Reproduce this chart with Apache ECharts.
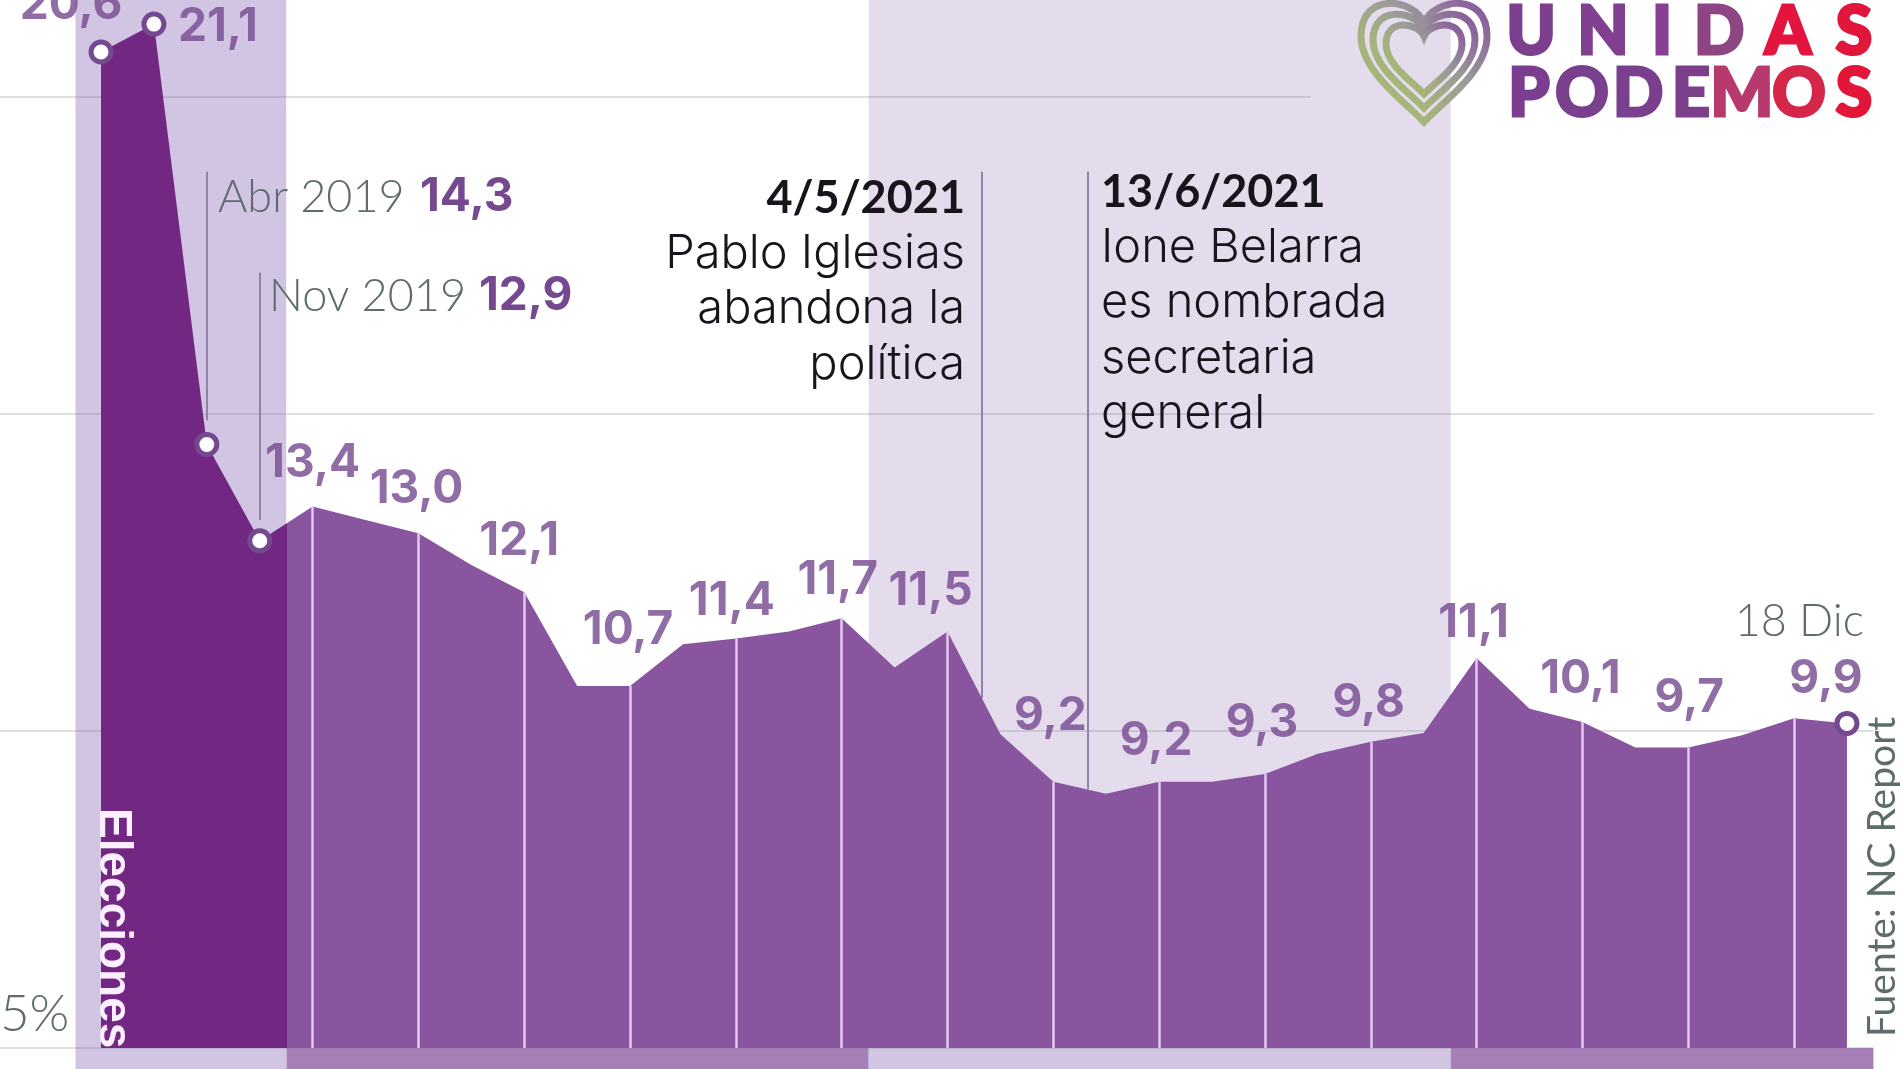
<!DOCTYPE html>
<html lang="es">
<head>
    <meta charset="UTF-8">
    <title>Unidas Podemos</title>
    <style>
        html, body { margin: 0; padding: 0; background: #fff; }
        #main { width: 1900px; height: 1069px; }
    </style>
</head>
<body>
<div id="main"></div>
<script src="https://cdn.jsdelivr.net/npm/echarts@6/dist/echarts.min.js"></script>
<script>
    // curva, un punto cada media casilla
    const trend = [20.71, 21.15, 14.52, 13.0, 13.54, 13.33, 13.12, 12.62, 12.19, 10.71, 10.71, 11.37,
        11.46, 11.57, 11.78, 11.0, 11.57, 9.95, 9.2, 9.01, 9.2, 9.2, 9.32, 9.64, 9.83, 9.97,
        11.15, 10.35, 10.14, 9.74, 9.74, 9.93, 10.2, 10.12];
    // etiquetas impresas, por indice de punto
    const labelIndex = [0, 1, 4, 6, 8, 10, 12, 14, 16, 18, 20, 22, 24, 26, 28, 30, 33];
    const labelText = ['20,6', '21,1', '13,4', '13,0', '12,1', '10,7', '11,4', '11,7', '11,5',
        '9,2', '9,2', '9,3', '9,8', '11,1', '10,1', '9,7', '9,9'];
    const markerIndex = [0, 1, 2, 3, 33];
    const tickIndex = [4, 6, 8, 10, 12, 14, 16, 18, 20, 22, 24, 26, 28, 30, 32];
    const gridValues = [5, 10, 15, 20];
    const gridEnds = [33.5, 33.5, 33.5, 22.87];
    const bandEdges = [-0.482, 3.506, 14.51, 25.51, 33.5];
    // lineas de eventos: x, valor abajo, valor arriba
    const eventX = [2, 3, 16.65, 18.65];
    const eventLow = [14.9, 13.33, 10.52, 9.08];
    const eventHigh = [18.82, 17.23, 18.82, 18.82];

    const xMin = -1.909, xMax = 33.53;
    const labelShift = [[-30, -47], [64, 3], [0, -43], [-2, -44], [-5, -51], [-2, -56], [-4, -37], [-4, -38],
        [-17, -40], [-3, -66], [-3, -41], [-3, -51], [-2, -39], [-3, -35], [-2, -43], [1, -49], [-21, -44]];

    const purple = '#74498f', gray = '#5f6c6d', ink = '#17141c';
    const valueFont = '700 46px Inter';
    const thinFont = '300 45px Lato';
    const bodyFont = '300 47px Inter';

    let mainData = trend.map(function (v, i) {
        let item = {value: [i, v]};
        if (markerIndex.indexOf(i) >= 0) {
            item.symbol = 'circle';
            item.symbolSize = 20;
            item.itemStyle = {color: '#fff', borderColor: purple, borderWidth: 5};
        }
        return item;
    });

    let labelData = labelIndex.map(function (i, n) {
        return {
            value: [i, trend[i]],
            label: {offset: labelShift[n], formatter: labelText[n]}
        };
    });

    let bandAreas = [], stripAreas = [];
    for (let i = 0; i < bandEdges.length - 1; i++) {
        let odd = i % 2 === 1;
        if (i < 3) {
            bandAreas.push([{xAxis: bandEdges[i], itemStyle: {color: i === 0 ? '#d2c4e3' : (odd ? '#ffffff' : '#e4dbed')}}, {xAxis: bandEdges[i + 1]}]);
        }
        stripAreas.push([{xAxis: bandEdges[i], itemStyle: {color: odd ? '#a67fb9' : '#d2c4e3'}}, {xAxis: bandEdges[i + 1]}]);
    }

    function vLines(xs, lows, highs) {
        return xs.map(function (x, i) {
            return [{coord: [x, lows[i]]}, {coord: [x, highs[i]]}];
        });
    }

    // corazon del logo
    echarts.graphic.registerShape('heart', echarts.graphic.extendShape({
        shape: {x: 0, y: 0, w: 100, h: 100},
        buildPath: function (ctx, s) {
            let px = function (v) { return s.x + v * s.w / 100; };
            let py = function (v) { return s.y + v * s.h / 100; };
            ctx.moveTo(px(50), py(26));
            ctx.bezierCurveTo(px(42), py(8), px(0), py(2), px(0), py(36));
            ctx.bezierCurveTo(px(0), py(62), px(34), py(84), px(50), py(100));
            ctx.bezierCurveTo(px(66), py(84), px(100), py(62), px(100), py(36));
            ctx.bezierCurveTo(px(100), py(2), px(58), py(8), px(50), py(26));
            ctx.closePath();
        }
    }));
    const heartGradient = new echarts.graphic.LinearGradient(0, 1, 1, 0, [
        {offset: 0, color: '#a9c46c'},
        {offset: 0.35, color: '#a3b27d'},
        {offset: 0.6, color: '#9a9a9a'},
        {offset: 1, color: '#86509a'}
    ]);

    function heart(x, y, w, h) {
        return {
            type: 'heart',
            z: 50,
            shape: {x: x, y: y, w: w, h: h},
            style: {fill: 'none', stroke: heartGradient, lineWidth: 7}
        };
    }

    const logoTop = ['U', 'N', 'I', 'D', 'A', 'S'];
    const logoTopX = [1531, 1603, 1662, 1719, 1788, 1854];
    const logoTopColor = ['#7b3f8e', '#80408f', '#854094', '#8d4584', '#e3153e', '#e1163a'];
    const logoBottom = ['P', 'O', 'D', 'E', 'M', 'O', 'S'];
    const logoBottomX = [1529, 1582, 1638, 1691, 1742, 1799, 1854];
    const logoBottomColor = ['#7b3d8f', '#7a3f8d', '#7b3f8f', '#7d3f8a', '#b73a6f', '#d5264a', '#e3163a'];

    function logoLetters(letters, xs, colors, y) {
        return letters.map(function (ch, i) {
            return {
                type: 'text', z: 50,
                style: {
                    text: ch, x: xs[i], y: y, fill: colors[i], stroke: colors[i], lineWidth: 3,
                    font: '900 66px Lato', align: 'center', verticalAlign: 'middle'
                }
            };
        });
    }

    function note(text, x, y, fill, font, align, lineHeight) {
        return {
            type: 'text', z: 50,
            style: {text: text, x: x, y: y, fill: fill, font: font, align: align, verticalAlign: 'middle', lineHeight: lineHeight}
        };
    }

    let graphics = [
        heart(1361, -12, 126, 134),
        heart(1373, 2, 102, 106),
        heart(1386, 16, 76, 78),
        note('Abr 2019', 218, 197, gray, thinFont, 'left'),
        note('14,3', 420, 197, purple, valueFont, 'left'),
        note('Nov 2019', 269, 296, gray, thinFont, 'left'),
        note('12,9', 479, 296, purple, valueFont, 'left'),
        note('4/5/2021', 965, 198, ink, '700 45px Lato', 'right'),
        note('Pablo Iglesias\nabandona la\npolítica', 965, 309, ink, bodyFont, 'right', 55.5),
        note('13/6/2021', 1101, 192, ink, '700 45px Lato', 'left'),
        note('Ione Belarra\nes nombrada\nsecretaria\ngeneral', 1101, 331, ink, bodyFont, 'left', 55.5),
        note('18 Dic', 1864, 621, gray, thinFont, 'right'),
        {
            type: 'text', z: 50, x: 1882, y: 1037, rotation: Math.PI / 2,
            style: {text: 'Fuente: NC Report', x: 0, y: 0, fill: gray, font: '400 39px Lato', align: 'left', verticalAlign: 'middle'}
        },
        {
            type: 'text', z: 50, x: 90, y: 808, rotation: -Math.PI / 2,
            style: {text: 'Elecciones', x: 0, y: 0, fill: '#fbeeff', font: '700 46px "Liberation Sans"', align: 'left', verticalAlign: 'bottom'}
        }
    ].concat(logoLetters(logoTop, logoTopX, logoTopColor, 33), logoLetters(logoBottom, logoBottomX, logoBottomColor, 95));

    let myChart = echarts.init(document.getElementById('main'));
    let option = {
        animation: false,
        backgroundColor: '#fff',
        grid: [
            {left: 0, right: 25, top: 0, bottom: 21, outerBoundsMode: 'none'},
            {left: 0, right: 25, top: 1048, bottom: 0, outerBoundsMode: 'none'}
        ],
        xAxis: [
            {type: 'value', gridIndex: 0, min: xMin, max: xMax, show: false},
            {type: 'value', gridIndex: 1, min: xMin, max: xMax, show: false}
        ],
        yAxis: [
            {
                type: 'value', gridIndex: 0, min: 5, max: 21.53, interval: 5,
                axisLine: {show: false}, axisTick: {show: false}, splitLine: {show: false},
                axisLabel: {
                    inside: true, margin: 0, color: gray, fontSize: 51, fontFamily: 'Lato', fontWeight: 300,
                    verticalAlign: 'bottom', lineHeight: 66, showMaxLabel: false,
                    formatter: function (v) { return v === 5 ? '5%' : ''; }
                }
            },
            {type: 'value', gridIndex: 1, min: 0, max: 1, show: false}
        ],
        series: [
            {
                name: 'bandas', type: 'line', z: 1, data: [], silent: true,
                markArea: {silent: true, z: 1, data: bandAreas}
            },
            {
                name: 'rejilla', type: 'line', z: 2, data: [], silent: true,
                markLine: {
                    silent: true, z: 2, symbol: 'none', label: {show: false},
                    lineStyle: {color: 'rgba(120,120,130,0.24)', width: 2, type: 'solid'},
                    data: gridValues.map(function (v, i) {
                        return [{coord: [xMin, v]}, {coord: [gridEnds[i], v]}];
                    })
                }
            },
            {
                name: 'eventos', type: 'line', z: 3, data: [], silent: true,
                markLine: {
                    silent: true, z: 3, symbol: 'none', label: {show: false},
                    lineStyle: {color: '#8f84a6', width: 2, type: 'solid'},
                    data: vLines(eventX, eventLow, eventHigh)
                }
            },
            {
                name: 'Unidas Podemos', type: 'line', z: 5, data: mainData, symbol: 'none', showSymbol: true,
                lineStyle: {width: 0},
                areaStyle: {
                    opacity: 1,
                    origin: 5,
                    color: new echarts.graphic.LinearGradient(0, 0, 1, 0, [
                        {offset: 0, color: '#722882'},
                        {offset: 0.1065, color: '#722882'},
                        {offset: 0.1065, color: '#88559e'},
                        {offset: 1, color: '#88559e'}
                    ])
                }
            },
            {
                name: 'marcas', type: 'line', z: 4, data: [], silent: true,
                markLine: {
                    silent: true, z: 6, symbol: 'none', label: {show: false},
                    lineStyle: {color: '#e6c8f3', width: 2.5, type: 'solid'},
                    data: tickIndex.map(function (i) {
                        return [{coord: [i, 5]}, {coord: [i, trend[i]]}];
                    })
                }
            },
            {
                name: 'etiquetas', type: 'scatter', z: 8, data: labelData, symbolSize: 1, silent: true,
                itemStyle: {color: 'rgba(0,0,0,0)'},
                label: {
                    show: true, position: 'inside', color: purple, fontFamily: 'Inter', fontWeight: 700, fontSize: 46,
                    align: 'center', verticalAlign: 'middle'
                }
            },
            {
                name: 'franja', type: 'line', xAxisIndex: 1, yAxisIndex: 1, z: 1, data: [], silent: true,
                markArea: {silent: true, z: 1, data: stripAreas}
            }
        ],
        graphic: {elements: graphics}
    };
    myChart.setOption(option);
</script>
</body>
</html>
